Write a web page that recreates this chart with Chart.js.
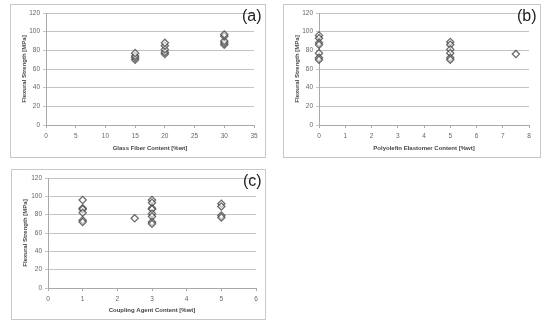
<!DOCTYPE html>
<html><head><meta charset="utf-8">
<script src="https://cdn.jsdelivr.net/npm/chart.js@4"></script>
<style>
body{margin:0;background:#fff;width:546px;height:323px;position:relative;overflow:hidden;font-family:"Liberation Sans",Arial,sans-serif}
.panel{position:absolute;border:1px solid #c8c8c8;box-sizing:border-box;background:#fff}
.panel canvas{position:absolute;left:0;top:0}
.lab{position:absolute;font-size:16px;color:#222;font-family:"Liberation Sans",Arial,sans-serif}
</style></head><body>
<div class="panel" id="pa" style="left:10px;top:4px;width:256px;height:154px"><canvas id="ca"></canvas><div class="lab" style="left:231px;top:2px">(a)</div></div>
<div class="panel" id="pb" style="left:283px;top:4px;width:258px;height:154px"><canvas id="cb"></canvas><div class="lab" style="left:233px;top:2px">(b)</div></div>
<div class="panel" id="pc" style="left:11px;top:169px;width:255px;height:151px"><canvas id="cc"></canvas><div class="lab" style="left:231px;top:2px">(c)</div></div>
<script>
// Panel (a): Glass fiber content
const aX = [15,15,15,15, 20,20,20,20,20, 30,30,30,30,30];
const aY = [70,72,74,77, 76,78,81,85,88, 86,88,90,95,97];
// Panel (b): Polyolefin elastomer content
const bX = [0,0,0,0,0,0,0, 5,5,5,5,5,5, 7.5];
const bY = [96,93,88,86,77,72,70, 89,86,81,77,72,70, 76];
// Panel (c): Coupling agent content
const cX = [1,1,1,1,1,1, 2.5, 3,3,3,3,3,3,3,3, 5,5,5,5];
const cY = [96,87,86,82,74,72, 76, 96,93,87,86,81,78,72,70, 92,89,79,77];
const yTicks = [0,20,40,60,80,100,120];
const titles = {
  a: "Glass Fiber Content [%wt]",
  b: "Polyolefin Elastomer Content [%wt]",
  c: "Coupling Agent Content [%wt]"
};
const yTitle = "Flexural Strength [MPa]";

function mk(id, w, h, xs, ys, xmax, xstep, xtitle, pad, yw, xh){
  const cv = document.getElementById(id);
  cv.width = w; cv.height = h; cv.style.width = w+'px'; cv.style.height = h+'px';
  const pts = xs.map((x,i)=>({x:x,y:ys[i]}));
  new Chart(cv, {
    type:'scatter',
    data:{datasets:[{data:pts, clip:false, pointStyle:'rectRot', pointRadius:3.6, pointBorderWidth:1.3,
      borderColor:'rgba(60,60,60,0.75)', backgroundColor:'rgba(255,255,255,0.6)'}]},
    options:{
      responsive:false, animation:false, devicePixelRatio:1,
      layout:{padding:{top:pad.top,right:pad.right,left:pad.left,bottom:pad.bottom}},
      plugins:{legend:{display:false},tooltip:{enabled:false}},
      scales:{
        x:{type:'linear',min:0,max:xmax,
          ticks:{stepSize:xstep,font:{size:6.5,family:"Liberation Sans"},color:'#666',padding:4},
          grid:{drawOnChartArea:false,drawTicks:true,tickLength:3,color:'#aaa'},
          border:{color:'#aaa'},
          title:{display:true,text:xtitle,font:{size:6,weight:'bold',family:"Liberation Sans"},color:'#444',padding:{top:2,bottom:0}},
          afterFit:(s)=>{s.height=xh;}
        },
        y:{min:0,max:120,
          afterBuildTicks:(s)=>{s.ticks=yTicks.map(v=>({value:v}));},
          ticks:{font:{size:6.5,family:"Liberation Sans"},color:'#666',padding:3},
          grid:{color:'#c4c4c4',tickLength:3},
          border:{color:'#aaa'},
          title:{display:true,text:yTitle,font:{size:6,weight:'bold',family:"Liberation Sans"},color:'#444',padding:{top:0,bottom:2}},
          afterFit:(s)=>{s.width=yw;}
        }
      }
    }
  });
}
mk('ca',254,152,aX,aY,35,5,titles.a,{top:8,right:11,left:10,bottom:5},25,27);
mk('cb',256,152,bX,bY,8,1,titles.b,{top:8,right:11,left:10,bottom:5},25,27);
mk('cc',253,149,cX,cY,6,1,titles.c,{top:8,right:9,left:10,bottom:5},26,26);
</script>
</body></html>
